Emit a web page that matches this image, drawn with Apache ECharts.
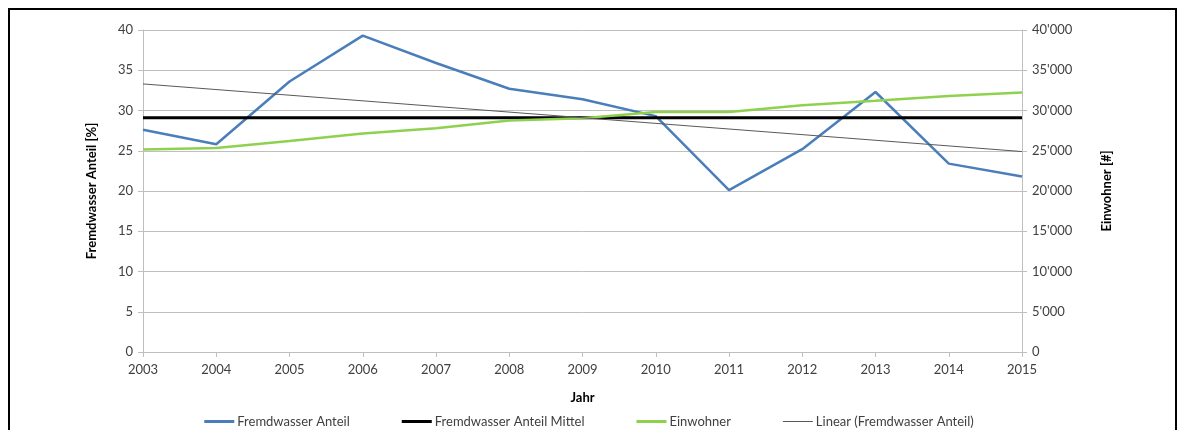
<!DOCTYPE html>
<html>
<head>
<meta charset="utf-8">
<script src="https://cdn.jsdelivr.net/npm/echarts@6/dist/echarts.min.js"></script>
<style>
    html, body { margin: 0; padding: 0; background: #fff; }
    #main { width: 1178px; height: 430px; }
</style>
</head>
<body>
<div id="main"></div>
<script>
var years = ['2003', '2004', '2005', '2006', '2007', '2008', '2009', '2010', '2011', '2012', '2013', '2014', '2015'];
var anteil = [27.6, 25.8, 33.6, 39.3, 35.9, 32.7, 31.4, 29.3, 20.1, 25.2, 32.3, 23.4, 21.8];
var anteilMittel = [29.1, 29.1, 29.1, 29.1, 29.1, 29.1, 29.1, 29.1, 29.1, 29.1, 29.1, 29.1, 29.1];
var einwohner = [25150, 25350, 26200, 27150, 27800, 28750, 29050, 29800, 29800, 30650, 31200, 31800, 32250];
// Trendlinie: nur Anfangs- und Endpunkt
var linear = [33.3, null, null, null, null, null, null, null, null, null, null, null, 24.9];

var fontName = 'Lato';
var labelColor = '#404040';

function tausender(v) {
    return String(v).replace(/\B(?=(\d{3})+(?!\d))/g, "'");
}

var myChart = echarts.init(document.getElementById('main'));

var dickeLinie = 'path://M0,0L30,0L30,3L0,3Z';
var duenneLinie = 'path://M0,0L30,0L30,1L0,1Z';

var option = {
    backgroundColor: '#fff',
    animation: false,
    textStyle: { fontFamily: fontName },
    grid: {
        left: 143,
        right: 156,
        top: 30,
        bottom: 78
    },
    graphic: [{
        type: 'rect',
        shape: { x: 9, y: 9, width: 1167, height: 460 },
        style: { fill: null, stroke: '#000', lineWidth: 2 },
        silent: true
    }],
    legend: {
        top: 410,
        left: 'center',
        itemWidth: 30,
        itemHeight: 10,
        itemGap: 52,
        symbolKeepAspect: true,
        textStyle: { fontFamily: fontName, fontSize: 13, color: labelColor, padding: [0, 0, 0, -2] },
        data: [
            { name: 'Fremdwasser Anteil', icon: dickeLinie },
            { name: 'Fremdwasser Anteil Mittel', icon: dickeLinie },
            { name: 'Einwohner', icon: dickeLinie },
            { name: 'Linear (Fremdwasser Anteil)', icon: duenneLinie }
        ]
    },
    xAxis: {
        type: 'category',
        data: years,
        boundaryGap: false,
        name: 'Jahr',
        nameLocation: 'middle',
        nameGap: 39,
        nameTextStyle: { fontFamily: fontName, fontWeight: 'bold', fontSize: 13, color: '#000' },
        axisLine: { lineStyle: { color: '#bfbfbf', width: 1 } },
        axisTick: { show: true, interval: 0, length: 5, lineStyle: { color: '#bfbfbf' } },
        axisLabel: { interval: 0, fontSize: 13, color: labelColor, margin: 11 },
        splitLine: { show: false }
    },
    yAxis: [{
        type: 'value',
        min: 0,
        max: 40,
        interval: 5,
        position: 'left',
        name: 'Fremdwasser Anteil [%]',
        nameLocation: 'middle',
        nameRotate: 90,
        nameGap: 45,
        nameTextStyle: { fontFamily: fontName, fontWeight: 'bold', fontSize: 13, color: '#000' },
        axisLine: { show: true, lineStyle: { color: '#bfbfbf' } },
        axisTick: { show: true, length: 5, lineStyle: { color: '#bfbfbf' } },
        axisLabel: { fontSize: 13, color: labelColor, margin: 10 },
        splitLine: { show: true, lineStyle: { color: '#bfbfbf', width: 1 } }
    }, {
        type: 'value',
        min: 0,
        max: 40000,
        interval: 5000,
        position: 'right',
        name: 'Einwohner [#]',
        nameLocation: 'middle',
        nameRotate: 90,
        nameGap: 78,
        nameTextStyle: { fontFamily: fontName, fontWeight: 'bold', fontSize: 13, color: '#000' },
        axisLine: { show: true, lineStyle: { color: '#bfbfbf' } },
        axisTick: { show: true, length: 5, lineStyle: { color: '#bfbfbf' } },
        axisLabel: { fontSize: 13, color: labelColor, margin: 10, formatter: tausender },
        splitLine: { show: false }
    }],
    series: [{
        name: 'Fremdwasser Anteil',
        type: 'line',
        yAxisIndex: 0,
        data: anteil,
        symbol: 'none',
        itemStyle: { color: '#4a7ebb' },
        lineStyle: { color: '#4a7ebb', width: 2.5 }
    }, {
        name: 'Fremdwasser Anteil Mittel',
        type: 'line',
        yAxisIndex: 0,
        data: anteilMittel,
        symbol: 'none',
        itemStyle: { color: '#000' },
        lineStyle: { color: '#000', width: 3 }
    }, {
        name: 'Einwohner',
        type: 'line',
        yAxisIndex: 1,
        data: einwohner,
        symbol: 'none',
        itemStyle: { color: '#8fd14f' },
        lineStyle: { color: '#8fd14f', width: 2.5 }
    }, {
        name: 'Linear (Fremdwasser Anteil)',
        type: 'line',
        yAxisIndex: 0,
        data: linear,
        connectNulls: true,
        symbol: 'none',
        itemStyle: { color: '#595959' },
        lineStyle: { color: '#595959', width: 1 }
    }]
};

myChart.setOption(option);
</script>
</body>
</html>
